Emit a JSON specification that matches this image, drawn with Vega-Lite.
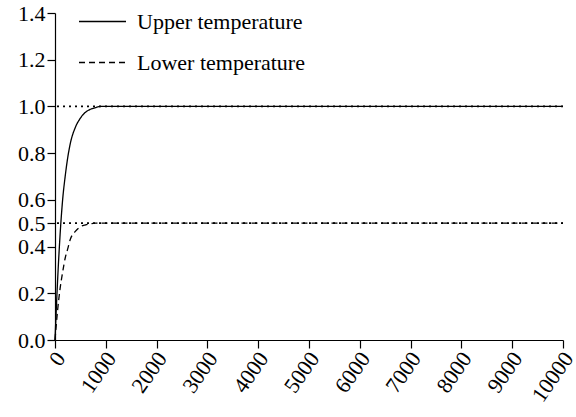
{
  "$schema": "https://vega.github.io/schema/vega-lite/v6.json",
  "width": 508,
  "height": 327,
  "autosize": "none",
  "padding": {"left": 55, "top": 13, "right": 13, "bottom": 77},
  "background": "white",
  "config": {
    "view": {"stroke": null},
    "style": {"guide-label": {"font": "Times New Roman"}}
  },
  "datasets": {
    "curves": [
      {"t": 0, "value": 0, "series": "Upper temperature"},
      {"t": 50, "value": 0.25, "series": "Upper temperature"},
      {"t": 100, "value": 0.45, "series": "Upper temperature"},
      {"t": 150, "value": 0.6, "series": "Upper temperature"},
      {"t": 200, "value": 0.7, "series": "Upper temperature"},
      {"t": 250, "value": 0.78, "series": "Upper temperature"},
      {"t": 300, "value": 0.84, "series": "Upper temperature"},
      {"t": 400, "value": 0.91, "series": "Upper temperature"},
      {"t": 500, "value": 0.95, "series": "Upper temperature"},
      {"t": 600, "value": 0.975, "series": "Upper temperature"},
      {"t": 700, "value": 0.988, "series": "Upper temperature"},
      {"t": 800, "value": 0.995, "series": "Upper temperature"},
      {"t": 900, "value": 1.0, "series": "Upper temperature"},
      {"t": 1000, "value": 1.0, "series": "Upper temperature"},
      {"t": 10000, "value": 1.0, "series": "Upper temperature"},
      {"t": 0, "value": 0, "series": "Lower temperature"},
      {"t": 50, "value": 0.125, "series": "Lower temperature"},
      {"t": 100, "value": 0.22, "series": "Lower temperature"},
      {"t": 150, "value": 0.29, "series": "Lower temperature"},
      {"t": 200, "value": 0.35, "series": "Lower temperature"},
      {"t": 250, "value": 0.39, "series": "Lower temperature"},
      {"t": 300, "value": 0.43, "series": "Lower temperature"},
      {"t": 400, "value": 0.465, "series": "Lower temperature"},
      {"t": 500, "value": 0.485, "series": "Lower temperature"},
      {"t": 600, "value": 0.493, "series": "Lower temperature"},
      {"t": 700, "value": 0.498, "series": "Lower temperature"},
      {"t": 800, "value": 0.5, "series": "Lower temperature"},
      {"t": 10000, "value": 0.5, "series": "Lower temperature"}
    ],
    "refs": [
      {"level": 1.0},
      {"level": 0.5}
    ]
  },
  "layer": [
    {
      "data": {"name": "refs"},
      "mark": {"type": "rule", "color": "black", "strokeWidth": 1.8, "strokeDash": [2, 4]},
      "encoding": {
        "y": {"field": "level", "type": "quantitative", "scale": {"domain": [0, 1.4]}}
      }
    },
    {
      "data": {"name": "curves"},
      "mark": {"type": "line", "color": "black", "strokeWidth": 1.3, "interpolate": "monotone"},
      "encoding": {
        "x": {
          "field": "t", "type": "quantitative",
          "scale": {"domain": [0, 10000], "nice": false},
          "axis": {
            "title": null,
            "grid": false,
            "domainColor": "black",
            "tickColor": "black",
            "tickSize": 8,
            "domainWidth": 1.2,
            "tickWidth": 1.2,
            "values": [0, 1000, 2000, 3000, 4000, 5000, 6000, 7000, 8000, 9000, 10000],
            "format": "d",
            "labelFont": "Times New Roman",
            "labelFontSize": 22,
            "labelColor": "black",
            "labelAngle": -55,
            "labelAlign": "right",
            "labelBaseline": "middle",
            "labelPadding": 6,
            "labelOffset": 5,
            "labelOverlap": false,
            "labelFlush": false
          }
        },
        "y": {
          "field": "value", "type": "quantitative",
          "scale": {"domain": [0, 1.4], "nice": false},
          "axis": {
            "title": null,
            "grid": false,
            "domainColor": "black",
            "tickColor": "black",
            "tickSize": 8,
            "domainWidth": 1.2,
            "tickWidth": 1.2,
            "values": [0, 0.2, 0.4, 0.5, 0.6, 0.8, 1.0, 1.2, 1.4],
            "format": ".1f",
            "labelFont": "Times New Roman",
            "labelFontSize": 22,
            "labelColor": "black",
            "labelPadding": 2,
            "labelOverlap": false,
            "labelFlush": false
          }
        },
        "strokeDash": {
          "field": "series", "type": "nominal",
          "scale": {"domain": ["Upper temperature", "Lower temperature"], "range": [[1, 0], [6, 4]]},
          "legend": {
            "title": null,
            "orient": "none",
            "legendX": 23,
            "legendY": -16,
            "symbolType": "stroke",
            "symbolSize": 2209,
            "symbolStrokeWidth": 1.6,
            "symbolStrokeColor": "black",
            "labelFont": "Liberation Serif",
            "labelFontSize": 22,
            "labelColor": "black",
            "labelOffset": 10,
            "rowPadding": 5,
            "labelLimit": 400
          }
        }
      }
    }
  ]
}
